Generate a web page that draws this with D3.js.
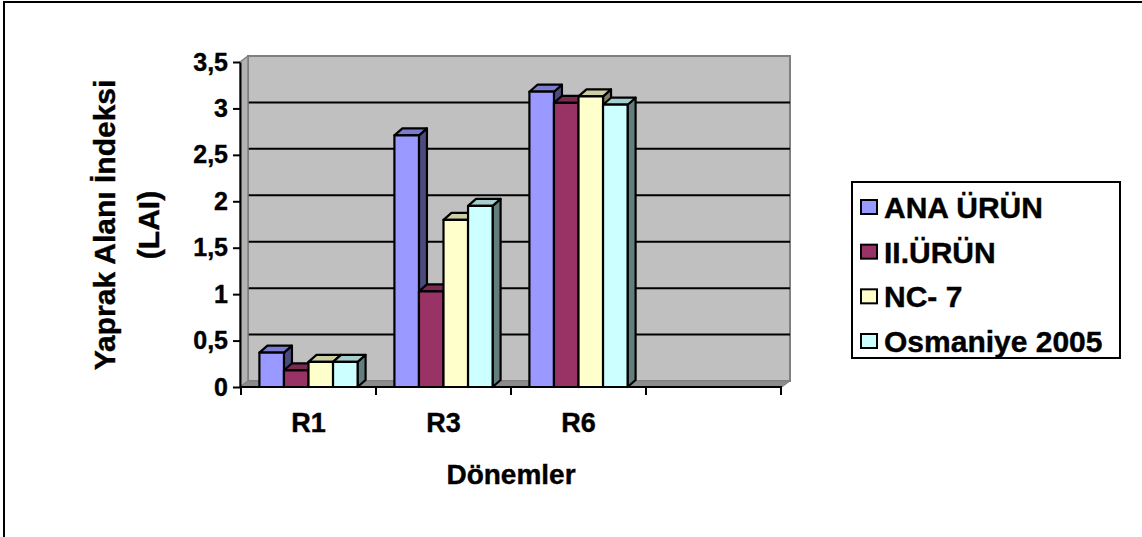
<!DOCTYPE html>
<html>
<head>
<meta charset="utf-8">
<script src="https://cdn.jsdelivr.net/npm/d3@7"></script>
<style>
  body { margin: 0; background: #fff; }
  svg { display: block; }
  text { font-family: Arial, "Liberation Sans", sans-serif; font-weight: bold; fill: #000;
         stroke: #000; stroke-width: 0.4px; }
</style>
</head>
<body>
<svg id="chart" width="1142" height="537"></svg>
<script>
// Categories along the x axis (the fourth slot is an empty category)
const categories = ["R1", "R3", "R6", ""];
const seriesNames = ["ANA ÜRÜN", "II.ÜRÜN", "NC- 7", "Osmaniye 2005"];
// Leaf area index per period, one array per series
const anaUrun      = [0.37, 2.71, 3.18];
const ikinciUrun   = [0.18, 1.03, 3.06];
const nc7          = [0.27, 1.80, 3.13];
const osmaniye2005 = [0.27, 1.95, 3.04];
const yTicks = [0, 0.5, 1, 1.5, 2, 2.5, 3, 3.5];
const yTickLabels = ["0", "0,5", "1", "1,5", "2", "2,5", "3", "3,5"];
const seriesColors = ["#9999FF", "#993366", "#FFFFCC", "#CCFFFF"];

const seriesValues = [anaUrun, ikinciUrun, nc7, osmaniye2005];

const svg = d3.select("#chart");

// outer chart frame
svg.append("rect").attr("x", 4).attr("y", 2).attr("width", 1160).attr("height", 560)
  .attr("fill", "none").attr("stroke", "#000").attr("stroke-width", 2);

const x0 = d3.scaleBand().domain(categories).range([241, 781]);
const xi = d3.scaleBand().domain(seriesNames).range([0, x0.bandwidth()])
  .paddingInner(0).paddingOuter(0.75);
const y = d3.scaleLinear().domain([0, 3.5]).range([387, 62]);

// depth offset of the walls and of the columns
const wdx = 8, wdy = -6;
const bdx = 8, bdy = -7;

const axisX = 240;
const xEnd = x0.range()[1];

// back wall
svg.append("rect")
  .attr("x", axisX + wdx).attr("y", y(3.5) + wdy)
  .attr("width", xEnd + 1 - axisX).attr("height", y(0) - y(3.5))
  .attr("fill", "#C0C0C0").attr("stroke", "#808080").attr("stroke-width", 2);

// gridlines on the back wall
svg.append("g").selectAll("line").data(yTicks.filter(d => d > 0 && d < 3.5)).join("line")
  .attr("x1", axisX + wdx).attr("x2", xEnd + 1 + wdx)
  .attr("y1", d => y(d) + wdy).attr("y2", d => y(d) + wdy)
  .attr("stroke", "#000").attr("stroke-width", 2);

// left side wall
svg.append("polygon")
  .attr("points", [[axisX, y(3.5)], [axisX + wdx, y(3.5) + wdy], [axisX + wdx, y(0) + wdy], [axisX, y(0)]].join(" "))
  .attr("fill", "#B2B2B2").attr("stroke", "#808080").attr("stroke-width", 1.5);

// floor
svg.append("polygon")
  .attr("points", [[axisX, y(0)], [axisX + wdx, y(0) + wdy], [xEnd + 1 + wdx, y(0) + wdy], [xEnd + 1, y(0)]].join(" "))
  .attr("fill", "#8C8C8C").attr("stroke", "#808080").attr("stroke-width", 1);

// columns, drawn left to right so each front face covers its neighbour's side
const bars = svg.append("g");
categories.forEach((cat, ci) => {
  seriesNames.forEach((name, si) => {
    const v = seriesValues[si][ci];
    if (v === undefined) return;
    const base = d3.rgb(seriesColors[si]);
    const x = x0(cat) + xi(name);
    const w = xi.bandwidth();
    const yt = y(v), yb = y(0);
    const g = bars.append("g").attr("stroke", "#000").attr("stroke-width", 2.2).attr("stroke-linejoin", "round");
    g.append("polygon")
      .attr("points", [[x + w, yt], [x + w + bdx, yt + bdy], [x + w + bdx, yb + bdy], [x + w, yb]].join(" "))
      .attr("fill", base.darker(2));
    g.append("polygon")
      .attr("points", [[x, yt], [x + bdx, yt + bdy], [x + w + bdx, yt + bdy], [x + w, yt]].join(" "))
      .attr("fill", base.darker(0.6));
    g.append("rect").attr("x", x).attr("y", yt).attr("width", w).attr("height", yb - yt)
      .attr("fill", base);
  });
});

// y axis
const yAxis = d3.axisLeft(y).tickValues(yTicks)
  .tickFormat((d, i) => yTickLabels[i]).tickSize(7).tickSizeOuter(0).tickPadding(5);
const gy = svg.append("g").attr("transform", `translate(${axisX},0)`).call(yAxis);
gy.select(".domain").attr("stroke", "#000").attr("stroke-width", 2);
gy.selectAll(".tick line").attr("stroke", "#000").attr("stroke-width", 2);
gy.selectAll(".tick text").style("font-size", "25px").attr("fill", "#000");

// x axis: line, boundary ticks and centred category labels
svg.append("line").attr("x1", axisX).attr("x2", xEnd + 1).attr("y1", y(0)).attr("y2", y(0))
  .attr("stroke", "#000").attr("stroke-width", 2);
const boundaries = categories.map(c => x0(c)).concat([xEnd]);
svg.append("g").selectAll("line").data(boundaries).join("line")
  .attr("x1", d => d).attr("x2", d => d).attr("y1", y(0)).attr("y2", y(0) + 8)
  .attr("stroke", "#000").attr("stroke-width", 2);
const xAxis = d3.axisBottom(x0).tickSize(0).tickPadding(26);
const gx = svg.append("g").attr("transform", `translate(0,${y(0)})`).call(xAxis);
gx.select(".domain").remove();
gx.selectAll(".tick text").style("font-size", "27px").attr("fill", "#000");

// axis titles
svg.append("text").attr("x", 511).attr("y", 484).attr("text-anchor", "middle")
  .style("font-size", "28px").text("Dönemler");
const yTitle = svg.append("g").attr("transform", "translate(0,225) rotate(-90)");
yTitle.append("text").attr("x", 0).attr("y", 115).attr("text-anchor", "middle")
  .style("font-size", "30px").text("Yaprak Alanı İndeksi");
yTitle.append("text").attr("x", 0).attr("y", 159).attr("text-anchor", "middle")
  .style("font-size", "30px").text("(LAI)");

// legend
const legend = svg.append("g");
legend.append("rect").attr("x", 852).attr("y", 182).attr("width", 268).attr("height", 176)
  .attr("fill", "#fff").attr("stroke", "#000").attr("stroke-width", 2);
const rowY = d3.scalePoint().domain(seriesNames).range([207, 341]);
const rows = legend.selectAll("g.row").data(seriesNames).join("g").attr("class", "row")
  .attr("transform", d => `translate(0,${rowY(d)})`);
rows.append("rect").attr("x", 861).attr("y", -7).attr("width", 16).attr("height", 14)
  .attr("fill", (d, i) => seriesColors[i]).attr("stroke", "#000").attr("stroke-width", 2);
rows.append("text").attr("x", 884).attr("y", 11).style("font-size", "30px").text(d => d);
</script>
</body>
</html>
